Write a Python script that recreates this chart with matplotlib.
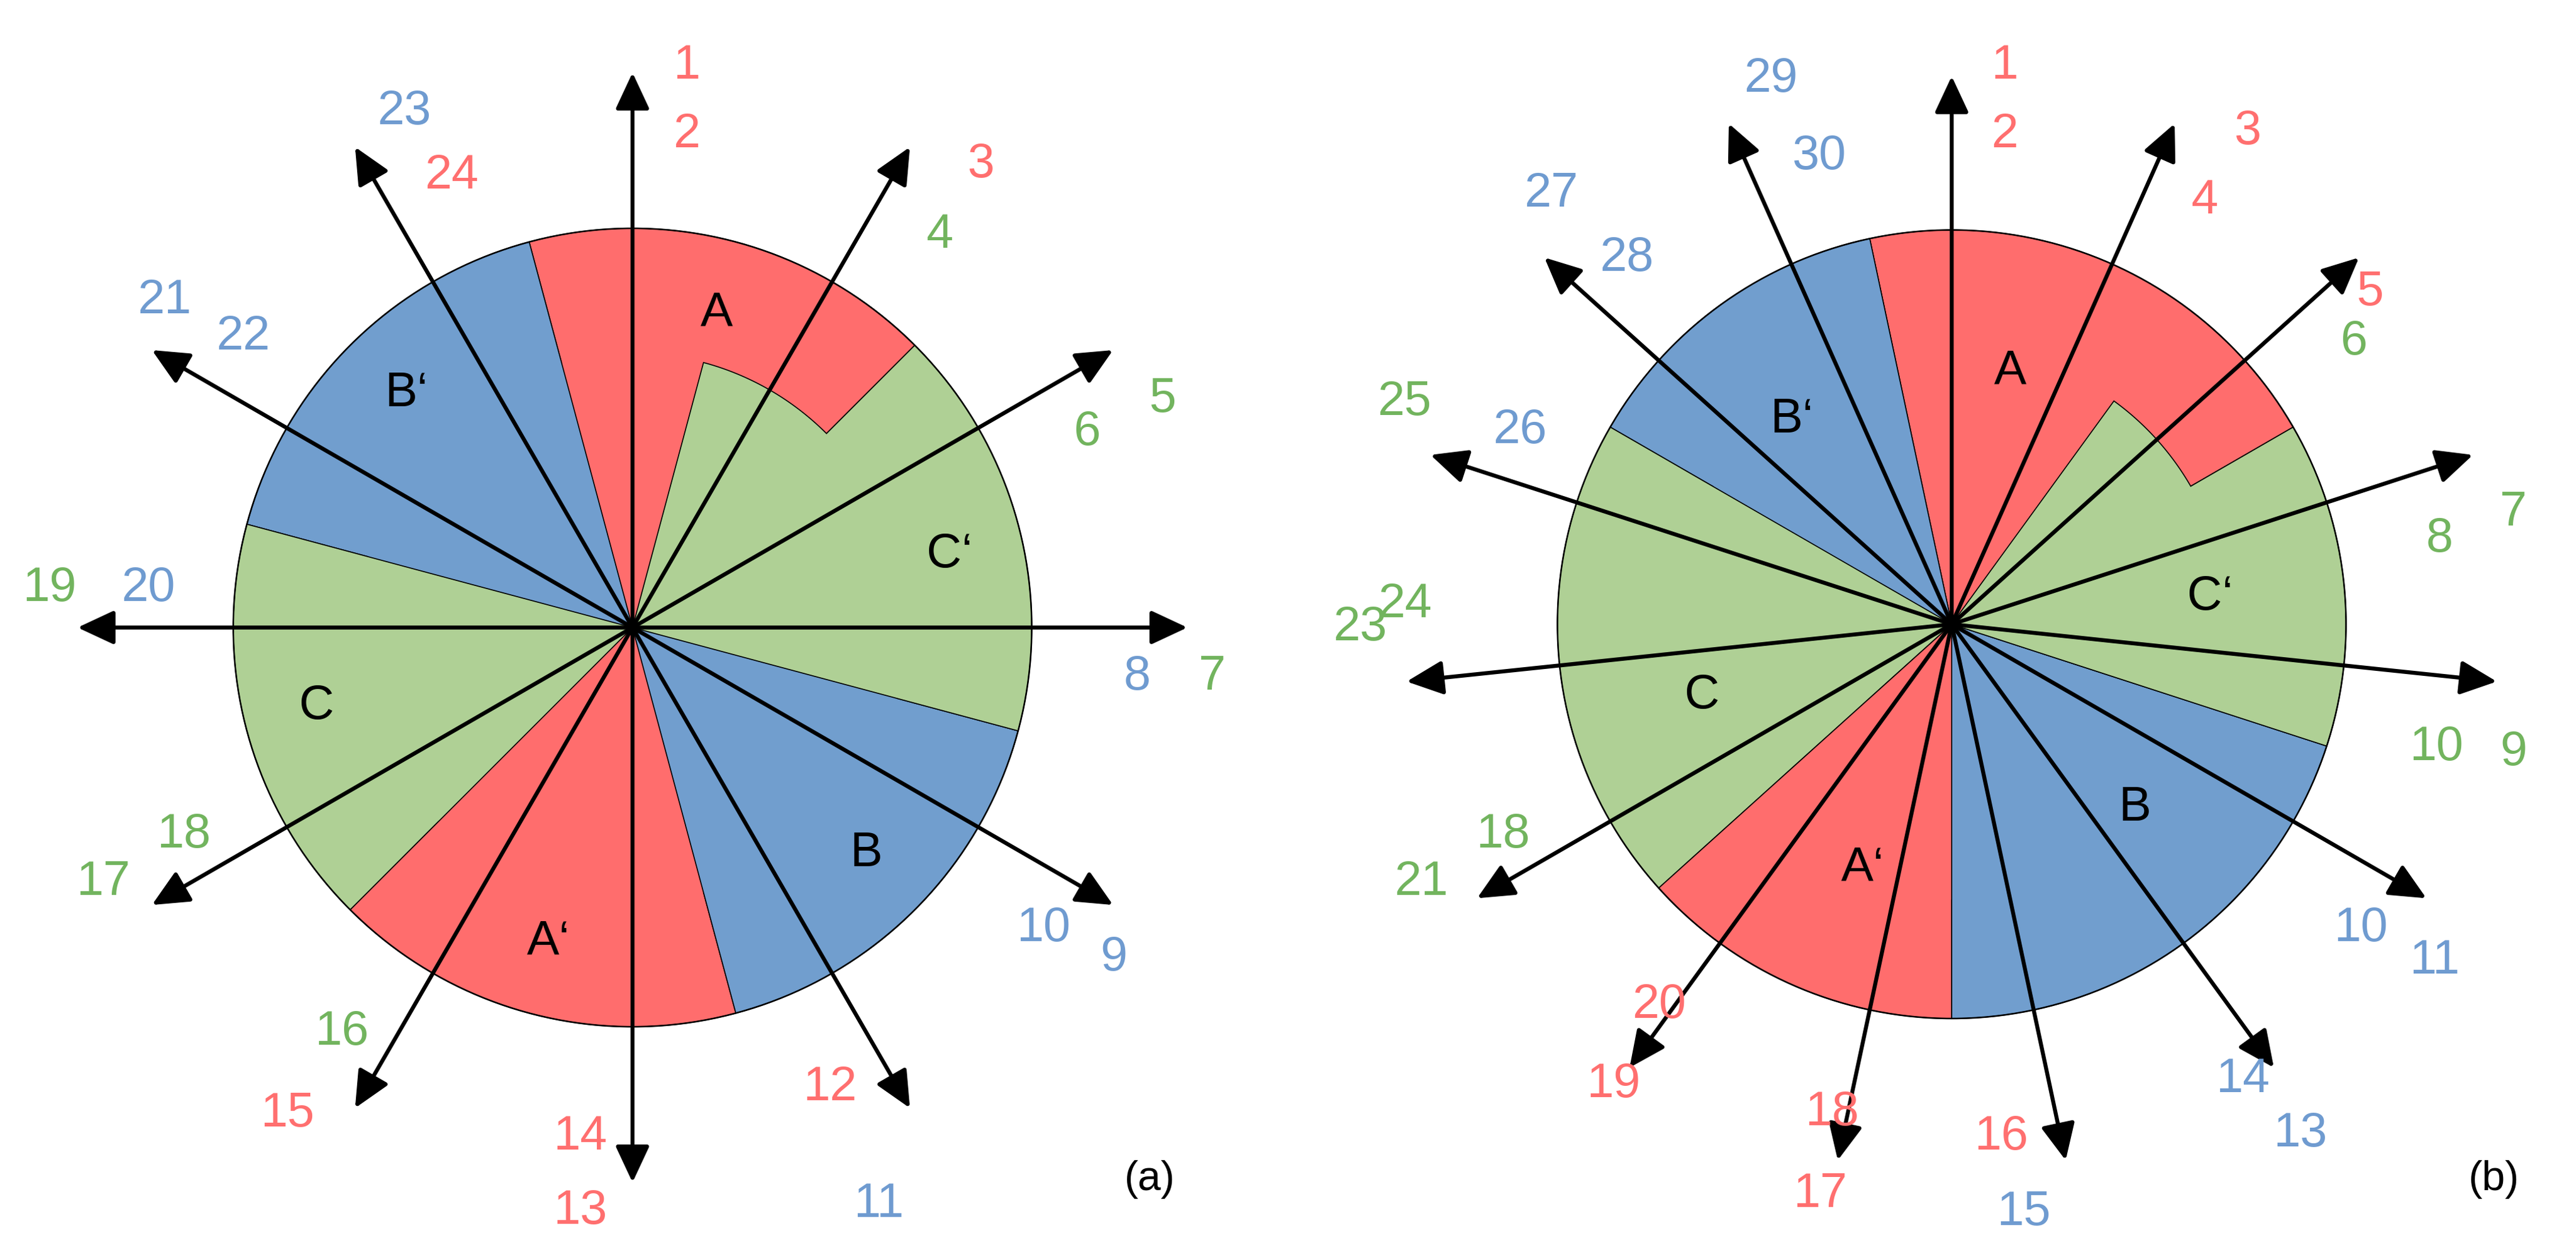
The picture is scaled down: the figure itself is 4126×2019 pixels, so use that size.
import numpy as np
import matplotlib
matplotlib.use("Agg")
import matplotlib.pyplot as plt
from matplotlib.patches import Polygon, Circle, FancyArrowPatch

plt.rcParams['font.family'] = ['Liberation Sans', 'DejaVu Sans']

RED, GREEN, BLUE = "#FF6D6D", "#AFD095", "#719ECE"
TRED, TGREEN, TBLUE = "#FF6F6F", "#72B45E", "#6F9BD0"
tc = {"r": TRED, "g": TGREEN, "b": TBLUE}

# ---- panel (a): 12 arrows every 30 deg
a_arrows = [90, 60, 30, 0, -30, -60, -90, -120, -150, 180, 150, 120]
# phase regions: (name, colour, outer span, inner span, label angle)
a_phases = [
    ("A",  RED,   (45, 105),  (75, 135),  75),
    ("B\u2018", BLUE,  (105, 165), (135, 195), 134),
    ("C",  GREEN, (165, 225), (195, 255), 194),
    ("A\u2018", RED,   (225, 285), (255, 315), 255),
    ("B",  BLUE,  (285, 345), (315, 375), 316),
    ("C\u2018", GREEN, (345, 405), (375, 435), 13),
]
a_nums = [("1", "r", 418, 40), ("2", "r", 418, 82), ("3", "r", 597, 100), ("4", "g", 572, 143),
          ("5", "g", 708, 243), ("6", "g", 662, 263), ("7", "g", 738, 412), ("8", "b", 692, 412),
          ("9", "b", 678, 583), ("10", "b", 635, 565), ("11", "b", 535, 733), ("12", "r", 505, 662),
          ("13", "r", 353, 737), ("14", "r", 353, 692), ("15", "r", 175, 678), ("16", "g", 208, 628),
          ("17", "g", 63, 537), ("18", "g", 112, 508), ("19", "g", 30, 358), ("20", "b", 90, 358),
          ("21", "b", 100, 183), ("22", "b", 148, 205), ("23", "b", 246, 68), ("24", "r", 275, 107)]

# ---- panel (b): 15 arrows every 24 deg
b_arrows = [90, 66, 42, 18, -6, -30, -54, -78, -102, -126, -150, -174, 162, 138, 114]
b_phases = [
    ("A",  RED,   (30, 102),  (54, 102),  77),
    ("B\u2018", BLUE,  (102, 150), (102, 174), 128),
    ("C",  GREEN, (150, 222), (174, 222), 196),
    ("A\u2018", RED,   (222, 270), (222, 294), 250),
    ("B",  BLUE,  (270, 342), (294, 342), 315),
    ("C\u2018", GREEN, (342, 390), (342, 414), 6),
]
b_nums = [("1", "r", 1220, 40), ("2", "r", 1220, 82), ("3", "r", 1368, 80), ("4", "r", 1342, 122),
          ("5", "r", 1443, 178), ("6", "g", 1433, 208), ("7", "g", 1530, 312), ("8", "g", 1485, 328),
          ("9", "g", 1530, 458), ("10", "g", 1483, 455), ("11", "b", 1482, 585), ("10", "b", 1437, 565),
          ("13", "b", 1400, 690), ("14", "b", 1365, 657), ("15", "b", 1232, 738), ("16", "r", 1218, 692),
          ("17", "r", 1108, 727), ("18", "r", 1115, 677), ("19", "r", 982, 660), ("20", "r", 1010, 612),
          ("21", "g", 865, 537), ("18", "g", 915, 508), ("23", "g", 828, 382), ("24", "g", 855, 368),
          ("25", "g", 855, 245), ("26", "b", 925, 262), ("27", "b", 944, 118), ("28", "b", 990, 157),
          ("29", "b", 1078, 48), ("30", "b", 1107, 95)]

W, H = 1568, 767
fig = plt.figure(figsize=(20.63, 10.095), dpi=200)
ax = fig.add_axes([0, 0, 1, 1])
ax.set_xlim(0, W)
ax.set_ylim(H, 0)
ax.axis("off")


def phase_poly(cx, cy, R, r, outer, inner):
    brk = sorted(set([outer[0], outer[1], inner[0], inner[1]]))
    pts = [(cx, cy)]
    for a, b in zip(brk[:-1], brk[1:]):
        rr = R if outer[0] <= a and b <= outer[1] else r
        th = np.radians(np.linspace(a, b, 60))
        pts += list(zip(cx + rr * np.cos(th), cy - rr * np.sin(th)))
    return pts


def draw_panel(cx, cy, R, rin, phases, arrows, nums, lab_r, tag, tagx):
    for name, col, outer, inner, la in phases:
        ax.add_patch(Polygon(phase_poly(cx, cy, R, rin, outer, inner), closed=True,
                             facecolor=col, edgecolor="black", lw=0.6, zorder=1))
        t = np.radians(la)
        ax.text(cx + lab_r * np.cos(t), cy - lab_r * np.sin(t), name, fontsize=28,
                ha="center", va="center", zorder=4)
    ax.add_patch(Circle((cx, cy), R, fill=False, edgecolor="black", lw=0.9, zorder=2))
    L = 1.39 * R
    for ang in arrows:
        t = np.radians(ang)
        ax.add_patch(FancyArrowPatch((cx, cy), (cx + L * np.cos(t), cy - L * np.sin(t)),
                                     arrowstyle="-|>,head_length=0.9,head_width=0.42",
                                     mutation_scale=20, lw=2.3, color="black",
                                     shrinkA=0, shrinkB=0, zorder=3))
    for s, c, x, y in nums:
        ax.text(x, y, s, color=tc[c], fontsize=28, ha="center", va="center")
    ax.text(tagx, 718, tag, fontsize=24, ha="center", va="center")


draw_panel(385, 382, 243, 167, a_phases, a_arrows, a_nums, 198, "(a)", 700)
draw_panel(1188, 380, 240, 168, b_phases, b_arrows, b_nums, 158, "(b)", 1518)

fig.savefig("out.png", dpi=200, facecolor="white")
